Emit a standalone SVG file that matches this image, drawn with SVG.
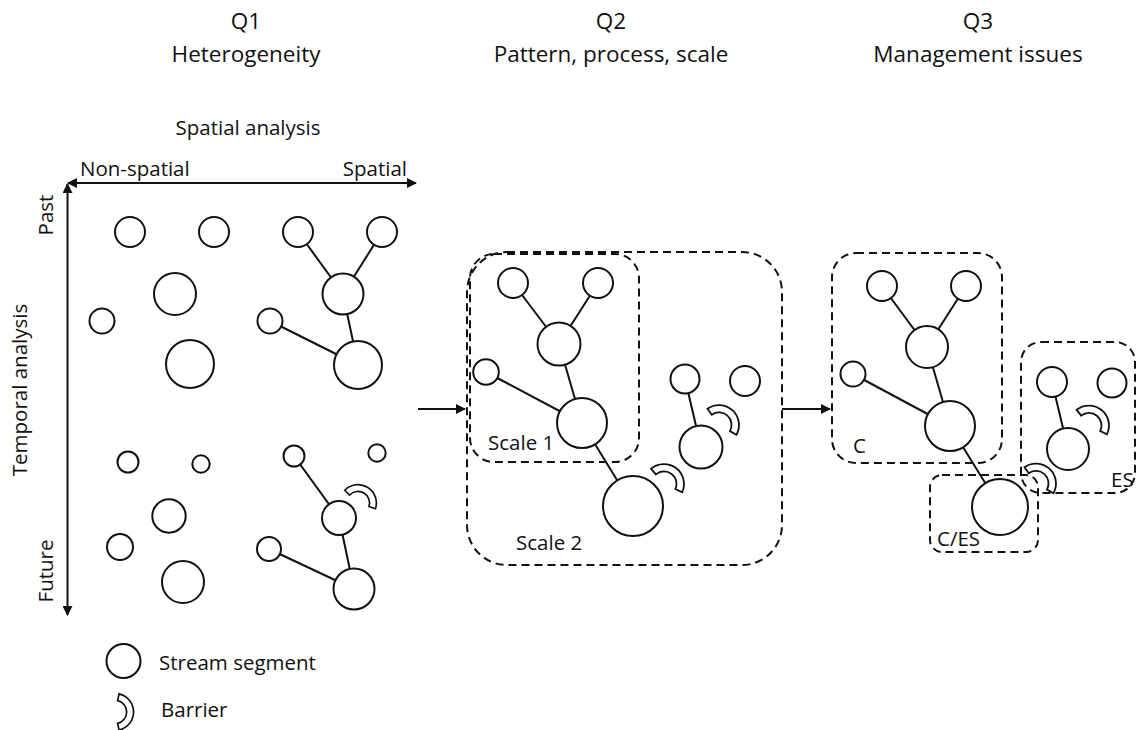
<svg xmlns="http://www.w3.org/2000/svg" width="1138" height="730" viewBox="0 0 1138 730">
<style>
text{font-family:"Open Sans","Noto Sans","DejaVu Sans",sans-serif;fill:#111;}
.t{font-size:22.5px;text-anchor:middle;}
.l{font-size:20.5px;}
.s{fill:#fff;stroke:#111;stroke-width:2;}
.e{stroke:#111;stroke-width:2;fill:none;}
.d{fill:none;stroke:#111;stroke-width:2;stroke-dasharray:8 5;}
.b{fill:#fff;stroke:#111;stroke-width:1.8;}
</style>
<defs>
<marker id="ah" viewBox="0 0 10 10" refX="9" refY="5" markerWidth="5" markerHeight="5" orient="auto-start-reverse"><path d="M0,0 L10,5 L0,10 z" fill="#111"/></marker>
<path id="bar" d="M4.4,-19.5 A20,20 0 0 1 4.4,19.5 L2.8,12.2 A12.5,12.5 0 0 0 2.8,-12.2 Z"/>
</defs>
<rect width="1138" height="730" fill="#fff"/>

<g id="titles">
<text class="t" x="246" y="29">Q1</text>
<text class="t" x="246" y="62">Heterogeneity</text>
<text class="t" x="611" y="29">Q2</text>
<text class="t" x="611" y="62">Pattern, process, scale</text>
<text class="t" x="978" y="29">Q3</text>
<text class="t" x="978" y="62">Management issues</text>
</g>

<g id="axes">
<text class="l" x="248" y="135" text-anchor="middle">Spatial analysis</text>
<text class="l" x="80" y="176">Non-spatial</text>
<text class="l" x="407" y="176" text-anchor="end">Spatial</text>
<text class="l" transform="translate(53,215) rotate(-90)" text-anchor="middle">Past</text>
<text class="l" transform="translate(27,390) rotate(-90)" text-anchor="middle">Temporal analysis</text>
<text class="l" transform="translate(53,571) rotate(-90)" text-anchor="middle">Future</text>
<line class="e" x1="68" y1="183" x2="416" y2="183" marker-start="url(#ah)" marker-end="url(#ah)"/>
<line class="e" x1="67.5" y1="184" x2="67.5" y2="615" marker-start="url(#ah)" marker-end="url(#ah)"/>
</g>

<g id="groups">
<rect id="scale2" class="d" x="467" y="252" width="315" height="313" rx="40"/>
<rect id="scale1" class="d" x="470" y="254" width="169" height="208" rx="24"/>
<rect id="boxC" class="d" x="832" y="253" width="170" height="210" rx="24"/>
<rect id="boxES" class="d" x="1021" y="342" width="114" height="151" rx="20"/>
<rect id="boxCES" class="d" x="930" y="475" width="108" height="77" rx="12"/>
<text class="l" x="488" y="450">Scale 1</text>
<text class="l" x="516" y="550">Scale 2</text>
<text class="l" x="853" y="453">C</text>
<text class="l" x="1111" y="487">ES</text>
<text class="l" x="937" y="546">C/ES</text>
</g>

<g id="connectors">
<line class="e" x1="298" y1="232" x2="343" y2="294"/>
<line class="e" x1="382" y1="232" x2="343" y2="294"/>
<line class="e" x1="343" y1="294" x2="358" y2="365"/>
<line class="e" x1="270" y1="321" x2="358" y2="365"/>
<line class="e" x1="294" y1="456" x2="339" y2="518"/>
<line class="e" x1="339" y1="518" x2="354" y2="589"/>
<line class="e" x1="269" y1="549" x2="354" y2="589"/>
<line class="e" x1="513" y1="283" x2="559" y2="344"/>
<line class="e" x1="598" y1="283" x2="559" y2="344"/>
<line class="e" x1="559" y1="344" x2="582" y2="423"/>
<line class="e" x1="486" y1="372" x2="582" y2="423"/>
<line class="e" x1="582" y1="423" x2="633" y2="506"/>
<line class="e" x1="685" y1="379" x2="701" y2="447"/>
<line class="e" x1="882" y1="286" x2="927" y2="347"/>
<line class="e" x1="966" y1="286" x2="927" y2="347"/>
<line class="e" x1="927" y1="347" x2="950" y2="426"/>
<line class="e" x1="853" y1="374" x2="950" y2="426"/>
<line class="e" x1="950" y1="426" x2="1000" y2="507"/>
<line class="e" x1="1052" y1="382" x2="1068" y2="449"/>
<line class="e" x1="418" y1="409" x2="465" y2="409" marker-end="url(#ah)"/>
<line class="e" x1="782" y1="409" x2="830" y2="409" marker-end="url(#ah)"/>
</g>

<g id="q1-past-nonspatial">
<circle class="s" cx="130" cy="232" r="15"/>
<circle class="s" cx="214" cy="232" r="15"/>
<circle class="s" cx="175" cy="294" r="21"/>
<circle class="s" cx="102" cy="321" r="12.5"/>
<circle class="s" cx="190" cy="364" r="24"/>
</g>
<g id="q1-past-spatial">
<circle class="s" cx="298" cy="232" r="15"/>
<circle class="s" cx="382" cy="232" r="15"/>
<circle class="s" cx="343" cy="294" r="20.5"/>
<circle class="s" cx="270" cy="321" r="12.5"/>
<circle class="s" cx="358" cy="365" r="24"/>
</g>
<g id="q1-future-nonspatial">
<circle class="s" cx="128" cy="462" r="10.5"/>
<circle class="s" cx="201" cy="464" r="8.7"/>
<circle class="s" cx="169" cy="516" r="16.7"/>
<circle class="s" cx="120" cy="547" r="13"/>
<circle class="s" cx="183" cy="582" r="21"/>
</g>
<g id="q1-future-spatial">
<circle class="s" cx="294" cy="456" r="10.5"/>
<circle class="s" cx="377" cy="453" r="8.7"/>
<circle class="s" cx="339" cy="518" r="17"/>
<circle class="s" cx="269" cy="549" r="12"/>
<circle class="s" cx="354" cy="589" r="20.5"/>
<use href="#bar" class="b" transform="translate(358,503) rotate(-59) scale(0.92)"/>
</g>
<g id="q2-network">
<circle class="s" cx="513" cy="283" r="15"/>
<circle class="s" cx="598" cy="283" r="15"/>
<circle class="s" cx="559" cy="344" r="21.5"/>
<circle class="s" cx="486" cy="372" r="12.8"/>
<circle class="s" cx="582" cy="423" r="25"/>
<circle class="s" cx="633" cy="506" r="30"/>
<circle class="s" cx="685" cy="379" r="14.5"/>
<circle class="s" cx="745" cy="381" r="15"/>
<circle class="s" cx="701" cy="447" r="21.5"/>
<use href="#bar" class="b" transform="translate(664,484) rotate(-53)"/>
<use href="#bar" class="b" transform="translate(719,425) rotate(-48)"/>
</g>
<g id="q3-network">
<circle class="s" cx="882" cy="286" r="15"/>
<circle class="s" cx="966" cy="286" r="15"/>
<circle class="s" cx="927" cy="347" r="21"/>
<circle class="s" cx="853" cy="374" r="12.5"/>
<circle class="s" cx="950" cy="426" r="25"/>
<circle class="s" cx="1000" cy="507" r="28"/>
<circle class="s" cx="1052" cy="382" r="15"/>
<circle class="s" cx="1112" cy="383" r="14.5"/>
<circle class="s" cx="1068" cy="449" r="21"/>
<use href="#bar" class="b" transform="translate(1089,425.5) rotate(-51)"/>
<use href="#bar" class="b" transform="translate(1036,483.5) rotate(-48)"/>
</g>

<g id="legend">
<circle class="s" cx="123.5" cy="661" r="17"/>
<text class="l" x="159" y="670">Stream segment</text>
<use href="#bar" class="b" transform="translate(115,712) scale(0.93)"/>
<text class="l" x="161" y="717">Barrier</text>
</g>
</svg>
